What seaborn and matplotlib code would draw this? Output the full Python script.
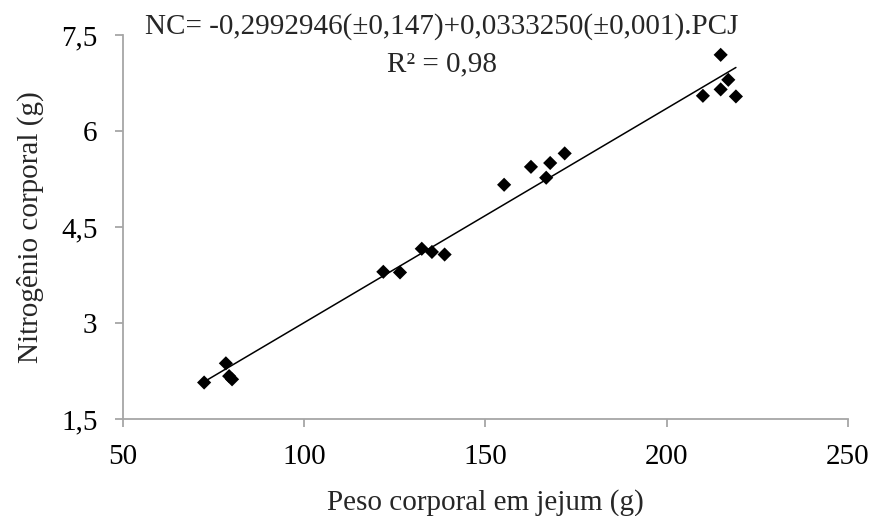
import matplotlib
matplotlib.use("Agg")
import matplotlib.pyplot as plt
import seaborn as sns
import numpy as np
import pandas as pd

# Data
peso_jejum = [72.5, 78.5, 79.4, 80.2, 121.9, 126.5, 132.5, 135.3, 138.8,
              155.2, 162.6, 166.8, 167.9, 171.9, 210.0, 214.9, 214.9, 217.0, 219.1]
nitrogenio = [2.07, 2.37, 2.17, 2.12, 3.80, 3.79, 4.16, 4.11, 4.07,
              5.16, 5.44, 5.27, 5.50, 5.65, 6.55, 7.19, 6.65, 6.80, 6.54]

x_ticks = [50, 100, 150, 200, 250]
y_ticks = [1.5, 3, 4.5, 6, 7.5]
y_tick_labels = ["1,5", "3", "4,5", "6", "7,5"]

eq_text = "NC= -0,2992946(\u00b10,147)+0,0333250(\u00b10,001).PCJ"
r2_text = "R\u00b2 = 0,98"
x_label = "Peso corporal em jejum (g)"
y_label = "Nitrog\u00eanio corporal (g)"

df = pd.DataFrame({"PCJ": peso_jejum, "NC": nitrogenio})

sns.set_theme(style="white")
plt.rcParams['font.family'] = ['Liberation Serif', 'DejaVu Serif']

FS = 21

fig = plt.figure(figsize=(8.72, 5.16), dpi=100)
ax = fig.add_axes([122.5 / 872, 1 - 419 / 516, (848 - 122.5) / 872, (419 - 35) / 516])

sns.regplot(data=df, x="PCJ", y="NC", ax=ax, ci=None, marker="D",
            scatter_kws=dict(s=52, color="black", edgecolor="none", alpha=1),
            line_kws=dict(color="black", lw=1.1))

ax.set_xlim(50, 250)
ax.set_ylim(1.5, 7.5)
ax.set_xticks(x_ticks)
ax.set_xticklabels([str(t) for t in x_ticks])
ax.set_yticks(y_ticks)
ax.set_yticklabels(y_tick_labels)

for side in ["top", "right"]:
    ax.spines[side].set_visible(False)
for side in ["left", "bottom"]:
    ax.spines[side].set_color("#a6a6a6")
    ax.spines[side].set_linewidth(1.3)

ax.tick_params(axis="both", which="major", direction="out", length=6,
               width=1.3, color="#a6a6a6", labelsize=FS, labelcolor="black",
               pad=12)
ax.tick_params(left=True, bottom=True)

ax.set_xlabel(x_label, fontsize=FS, labelpad=14)
ax.set_ylabel(y_label, fontsize=FS, labelpad=12.5)

fig.text(441.5 / 872, 1 - 34 / 516, eq_text, ha="center", va="baseline", fontsize=FS)
fig.text(442 / 872, 1 - 71 / 516, r2_text, ha="center", va="baseline", fontsize=FS)

fig.savefig("out.png", dpi=100)
